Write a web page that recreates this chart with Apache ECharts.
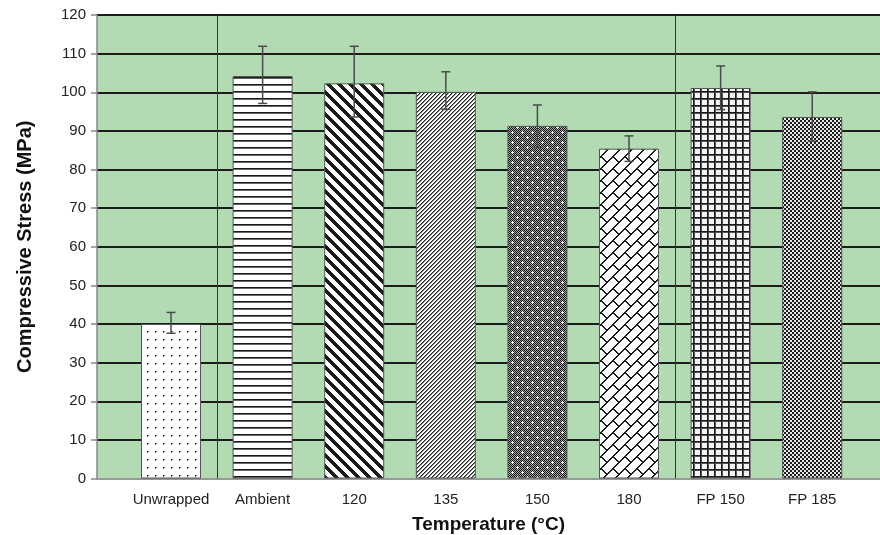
<!DOCTYPE html>
<html>
<head>
<meta charset="utf-8">
<script src="https://cdn.jsdelivr.net/npm/echarts@6/dist/echarts.min.js"></script>
<style>
  html, body { margin: 0; padding: 0; background: #ffffff; }
  #chart { width: 880px; height: 535px; }
</style>
</head>
<body>
<div id="chart"></div>
<script>
// ---- data ----
const categories = ['Unwrapped', 'Ambient', '120', '135', '150', '180', 'FP 150', 'FP 185'];
const stress     = [40.0, 104.2, 102.3, 100.1, 91.3, 85.4, 101.1, 93.6];
const errorHigh  = [43.0, 111.9, 111.9, 105.3, 96.7, 88.7, 106.8, 100.1];
const errorLow   = [37.6,  97.1,  93.6,  95.6, 85.7, 82.1,  95.5,  87.3];
const yMin = 0, yMax = 120, yStep = 10;
const groupDividers = [0.5, 5.5];   // separators between category groups
const xAxisName = 'Temperature (°C)';
const yAxisName = 'Compressive Stress (MPa)';

// ---- fill patterns (style only) ----
function tile(w, h, fn) {
  const c = document.createElement('canvas');
  c.width = w; c.height = h;
  const ctx = c.getContext('2d');
  ctx.fillStyle = '#ffffff';
  ctx.fillRect(0, 0, w, h);
  for (let y = 0; y < h; y++) {
    for (let x = 0; x < w; x++) {
      const col = fn(x, y);
      if (col) { ctx.fillStyle = col; ctx.fillRect(x, y, 1, 1); }
    }
  }
  return { image: c, repeat: 'repeat' };
}
const mod = (a, n) => ((a % n) + n) % n;
const patterns = [
  // dots
  tile(8, 8, (x, y) => (x === 3 && y === 3) ? '#111' : ((x === 4 && y === 3) || (x === 3 && y === 4) ? '#777' : null)),
  // horizontal stripes
  tile(1, 7, (x, y) => y === 0 ? '#1a1a1a' : (y === 1 ? '#666' : null)),
  // thick "\" stripes
  tile(11, 11, (x, y) => mod(x - y, 11) < 5 ? '#1a1a1a' : null),
  // thin "/" stripes
  tile(4, 4, (x, y) => { const d = mod(x + y, 4); return d === 0 ? '#222' : (d === 1 ? '#888' : null); }),
  // dense checker with white crosses
  tile(10, 10, (x, y) => {
    const cross = (cx, cy) => (x === cx && Math.abs(y - cy) <= 1) || (y === cy && Math.abs(x - cx) <= 1);
    if (cross(2, 2) || cross(7, 7)) return '#ffffff';
    return mod(x + y, 2) === 0 ? '#111' : '#a8a8a8';
  }),
  // diagonal brick
  tile(24, 24, (x, y) => {
    const u = x + y, v = x - y + 48;
    const r = Math.floor(u / 12);
    const off = (r % 2) * 12;
    return (mod(u, 12) < 2 || mod(v - off, 24) < 2) ? '#1a1a1a' : null;
  }),
  // square grid
  tile(7, 7, (x, y) => (x === 0 || y === 0) ? '#1a1a1a' : ((x === 1 || y === 1) ? '#555' : '#f3f3f3')),
  // fine checker
  tile(4, 4, (x, y) => ((Math.floor(x / 2) + Math.floor(y / 2)) % 2 === 0) ? '#1e1e1e' : '#e6e6e6')
];

const chart = echarts.init(document.getElementById('chart'), null, { renderer: 'canvas' });
const font = "'Liberation Sans', Arial, Helvetica, sans-serif";

const barData = categories.map((c, i) => ({
  value: [i, stress[i]],
  itemStyle: { color: patterns[i] }
}));
const errData = categories.map((c, i) => [i, stress[i], errorHigh[i], errorLow[i]]);

const option = {
  animation: false,
  textStyle: { fontFamily: font },
  grid: {
    left: 97, right: 0, top: 15, bottom: 56.5,
    outerBoundsMode: 'none',
    containLabel: false,
    show: true, backgroundColor: '#b2dbb3', borderWidth: 0
  },
  xAxis: {
    type: 'value',
    min: -0.808, max: 7.74,
    name: xAxisName,
    nameLocation: 'middle',
    nameGap: 37,
    nameTextStyle: { fontFamily: font, fontSize: 19, fontWeight: 'bold', color: '#111' },
    axisLine: { show: true, onZero: false, lineStyle: { color: '#999', width: 2 } },
    axisTick: { show: false },
    splitLine: { show: false },
    axisLabel: {
      customValues: categories.map((c, i) => i),
      formatter: v => categories[Math.round(v)] || '',
      fontFamily: font, fontSize: 15, color: '#222', margin: 14
    }
  },
  yAxis: {
    type: 'value',
    min: yMin, max: yMax, interval: yStep,
    name: yAxisName,
    nameLocation: 'middle',
    nameGap: 62,
    nameTextStyle: { fontFamily: font, fontSize: 20, fontWeight: 'bold', color: '#111' },
    axisLine: { show: true, onZero: false, lineStyle: { color: '#888', width: 1.5 } },
    axisTick: { show: true, length: 6, lineStyle: { color: '#888', width: 1.5 } },
    axisLabel: { fontFamily: font, fontSize: 15, color: '#222', margin: 11 },
    splitLine: { show: true, lineStyle: { color: '#1c1c1c', width: 1.8 } }
  },
  series: [
    {
      type: 'bar',
      data: barData,
      barWidth: 60,
      itemStyle: { borderColor: '#555', borderWidth: 1 },
      markLine: {
        silent: true,
        symbol: 'none',
        label: { show: false },
        lineStyle: { color: '#333', width: 1, type: 'solid' },
        data: groupDividers.map(d => ({ xAxis: d }))
      },
      z: 2
    },
    {
      type: 'custom',
      data: errData,
      encode: { x: 0, y: 1 },
      z: 5,
      renderItem: function (params, api) {
        const x = api.value(0);
        const top = api.coord([x, api.value(2)]);
        const bot = api.coord([x, api.value(3)]);
        const half = 4.5;
        const st = { stroke: '#4a4a4a', lineWidth: 1.5 };
        return {
          type: 'group',
          children: [
            { type: 'line', shape: { x1: top[0], y1: top[1], x2: bot[0], y2: bot[1] }, style: st },
            { type: 'line', shape: { x1: top[0] - half, y1: top[1], x2: top[0] + half, y2: top[1] }, style: st },
            { type: 'line', shape: { x1: bot[0] - half, y1: bot[1], x2: bot[0] + half, y2: bot[1] }, style: st }
          ]
        };
      }
    }
  ]
};
chart.setOption(option);
</script>
</body>
</html>
